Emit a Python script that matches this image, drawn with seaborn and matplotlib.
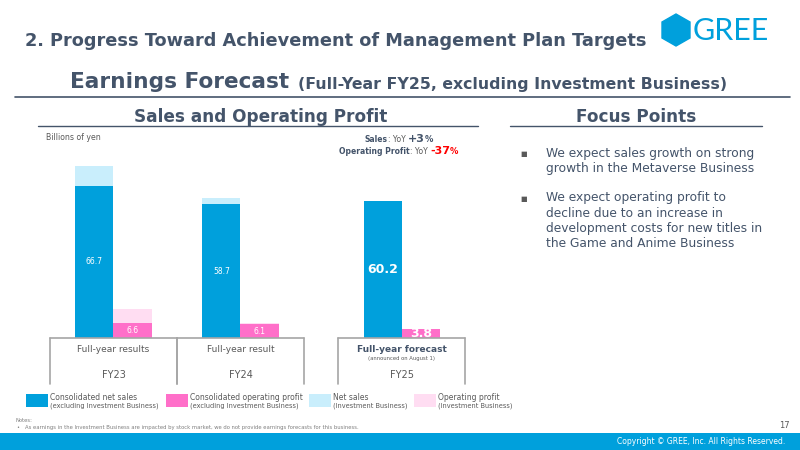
import pandas as pd
import matplotlib
matplotlib.use('Agg')
import matplotlib.pyplot as plt
from matplotlib.lines import Line2D
from matplotlib.patches import Rectangle, Polygon
import seaborn as sns

# Earnings data, billions of yen (excluding / investment business)
years = ['FY23', 'FY24', 'FY25']
periods = ['Full-year results', 'Full-year result', 'Full-year forecast']
net_sales = [66.7, 58.7, 60.2]
op_profit = [6.6, 6.1, 3.8]
inv_sales = [8.8, 2.6, 0.0]
inv_profit = [6.1, 0.4, 0.0]
yoy_sales = '+3'
yoy_profit = '-37'

focus_points = [
    'We expect sales growth on strong\ngrowth in the Metaverse Business',
    'We expect operating profit to\ndecline due to an increase in\ndevelopment costs for new titles in\nthe Game and Anime Business',
]
legend_items = [
    ('Consolidated net sales', '(excluding Investment Business)'),
    ('Consolidated operating profit', '(excluding Investment Business)'),
    ('Net sales', '(Investment Business)'),
    ('Operating profit', '(Investment Business)'),
]

# layout: group centres (gap before the forecast group)
group_pos = [0, 1, 2.27]

BLUE = '#00A0DC'
PINK = '#FF6FC9'
LBLUE = '#C9EEFC'
LPINK = '#FFDDF2'
SLATE = '#44546A'
GREY = '#595959'

sns.set_theme(style='white')
plt.rcParams['font.family'] = ['DejaVu Sans']

W, H = 800, 450
def fx(x):
    return x / W
def fy(y):
    return 1 - y / H

fig = plt.figure(figsize=(8, 4.5), dpi=100)
fig.patch.set_facecolor('white')

# ---- header ----
fig.text(fx(25), fy(41), '2. Progress Toward Achievement of Management Plan Targets',
         fontsize=12.8, fontweight='bold', color=SLATE, va='center', ha='left')
hexagon = Polygon([(fx(676), fy(14)), (fx(690), fy(22)), (fx(690), fy(38)),
                   (fx(676), fy(46)), (fx(662), fy(38)), (fx(662), fy(22))],
                  closed=True, transform=fig.transFigure, color=BLUE)
fig.add_artist(hexagon)
fig.text(fx(693), fy(31), 'GREE', fontsize=22, family='Lato', color=BLUE, va='center', ha='left')

fig.text(fx(70), fy(82), 'Earnings Forecast', fontsize=15.6, fontweight='bold', color=SLATE, va='center')
fig.text(fx(298), fy(84), '(Full-Year FY25, excluding Investment Business)', fontsize=11.3,
         fontweight='bold', color=SLATE, va='center')
fig.add_artist(Line2D([fx(15), fx(790)], [fy(97), fy(97)], transform=fig.transFigure, color=SLATE, lw=1.2))

fig.text(fx(261), fy(117), 'Sales and Operating Profit', fontsize=12.2, fontweight='bold',
         color=SLATE, va='center', ha='center')
fig.add_artist(Line2D([fx(38), fx(478)], [fy(126), fy(126)], transform=fig.transFigure, color=SLATE, lw=1))
fig.text(fx(636), fy(117), 'Focus Points', fontsize=12.2, fontweight='bold',
         color=SLATE, va='center', ha='center')
fig.add_artist(Line2D([fx(510), fx(762)], [fy(126), fy(126)], transform=fig.transFigure, color=SLATE, lw=1))

# ---- focus points ----
y = 154
for txt in focus_points:
    fig.text(fx(524), fy(y), '■', fontsize=5, color='#595959', va='center', ha='center')
    fig.text(fx(546), fy(y - 7.5), txt, fontsize=8.8, color=SLATE, va='top', ha='left', linespacing=1.22)
    y += 45

# ---- chart ----
rows = []
for p, s, o, i_s, i_p in zip(group_pos, net_sales, op_profit, inv_sales, inv_profit):
    rows.append({'pos': p, 'metric': 'sales', 'value': s, 'total': s + i_s})
    rows.append({'pos': p, 'metric': 'profit', 'value': o, 'total': o + i_p})
df = pd.DataFrame(rows)

ax = fig.add_axes([fx(50), fy(338), fx(466) - fx(50), fy(150) - fy(338)])
order = ['sales', 'profit']
sns.barplot(data=df, x='pos', y='total', hue='metric', hue_order=order,
            palette={'sales': LBLUE, 'profit': LPINK}, native_scale=True, width=0.6,
            saturation=1, linewidth=0, errorbar=None, legend=False, ax=ax)
sns.barplot(data=df, x='pos', y='value', hue='metric', hue_order=order,
            palette={'sales': BLUE, 'profit': PINK}, native_scale=True, width=0.6,
            saturation=1, linewidth=0, errorbar=None, legend=False, ax=ax)
ax.set_xlim(-0.5, 2.776)
ax.set_ylim(0, 188 / 2.28)
ax.axis('off')

for c in ax.containers[2:]:
    labels = ax.bar_label(c, fmt='%.1f', label_type='center', color='white', fontsize=5.5)
    labels[-1].set_fontsize(9)
    labels[-1].set_fontweight('bold')

# category boxes under the bars
trans = ax.get_xaxis_transform()
depth = -46 / 188
for p, per, yr in zip(group_pos, periods, years):
    ax.plot([p - 0.5, p + 0.5], [0, 0], color='#A6A6A6', lw=1.2, clip_on=False)
    ax.plot([p - 0.5, p - 0.5], [0, depth], color='#A6A6A6', lw=1.2, clip_on=False, transform=trans)
    ax.plot([p + 0.5, p + 0.5], [0, depth], color='#A6A6A6', lw=1.2, clip_on=False, transform=trans)
    bold = per.endswith('forecast')
    ax.text(p, -11 / 188, per, transform=trans, ha='center', va='center', fontsize=6.5,
            color=SLATE if bold else GREY, fontweight='bold' if bold else 'normal')
    if bold:
        ax.text(p, -20.5 / 188, '(announced on August 1)', transform=trans, ha='center',
                va='center', fontsize=3.8, color=GREY)
    ax.text(p, -37 / 188, yr, transform=trans, ha='center', va='center', fontsize=7, color=GREY)

fig.text(fx(46), fy(137), 'Billions of yen', fontsize=5.6, color=GREY, va='center')

# YoY annotations, built piece by piece
renderer = fig.canvas.get_renderer()
def rich_line(cx, yy, pieces):
    texts = []
    for s, kw in pieces:
        texts.append(fig.text(0, fy(yy), s, va='baseline', ha='left', **kw))
    widths = [t.get_window_extent(renderer).width for t in texts]
    x = cx - sum(widths) / 2
    for t, w in zip(texts, widths):
        t.set_x(x / W)
        x += w

rich_line(399, 142, [('Sales', dict(fontsize=5.5, fontweight='bold', color=SLATE)),
                     (': YoY ', dict(fontsize=5.5, color=GREY)),
                     (yoy_sales, dict(fontsize=8, fontweight='bold', color=SLATE)),
                     ('%', dict(fontsize=6, fontweight='bold', color=SLATE))])
rich_line(399, 154, [('Operating Profit', dict(fontsize=5.5, fontweight='bold', color=SLATE)),
                     (': YoY ', dict(fontsize=5.5, color=GREY)),
                     (yoy_profit, dict(fontsize=8, fontweight='bold', color='#FF0000')),
                     ('%', dict(fontsize=6, fontweight='bold', color='#FF0000'))])

# ---- legend ----
leg_colors = [BLUE, PINK, LBLUE, LPINK]
leg_x = [26, 166, 309, 414]
for (l1, l2), col, lx in zip(legend_items, leg_colors, leg_x):
    fig.add_artist(Rectangle((fx(lx), fy(407)), 22 / W, 13 / H, transform=fig.transFigure,
                             color=col, lw=0))
    fig.text(fx(lx + 24), fy(397), l1, fontsize=5.5, color=GREY, va='center')
    fig.text(fx(lx + 24), fy(405.5), l2, fontsize=4.8, color=GREY, va='center')

# ---- notes and footer ----
fig.text(fx(15), fy(420), 'Notes:', fontsize=3.8, color='#7F7F7F', va='center')
fig.text(fx(16), fy(428), '•', fontsize=3.8, color='#7F7F7F', va='center')
fig.text(fx(25), fy(428), 'As earnings in the Investment Business are impacted by stock market, '
         'we do not provide earnings forecasts for this business.', fontsize=3.8,
         color='#7F7F7F', va='center')
fig.text(fx(790), fy(425), '17', fontsize=6, color=GREY, va='center', ha='right')
fig.add_artist(Rectangle((0, 0), 1, 17 / H, transform=fig.transFigure, color=BLUE, lw=0))
fig.text(fx(785), fy(441.5), 'Copyright © GREE, Inc. All Rights Reserved.', fontsize=5.5,
         color='white', va='center', ha='right')

fig.savefig('out.png', dpi=100)
